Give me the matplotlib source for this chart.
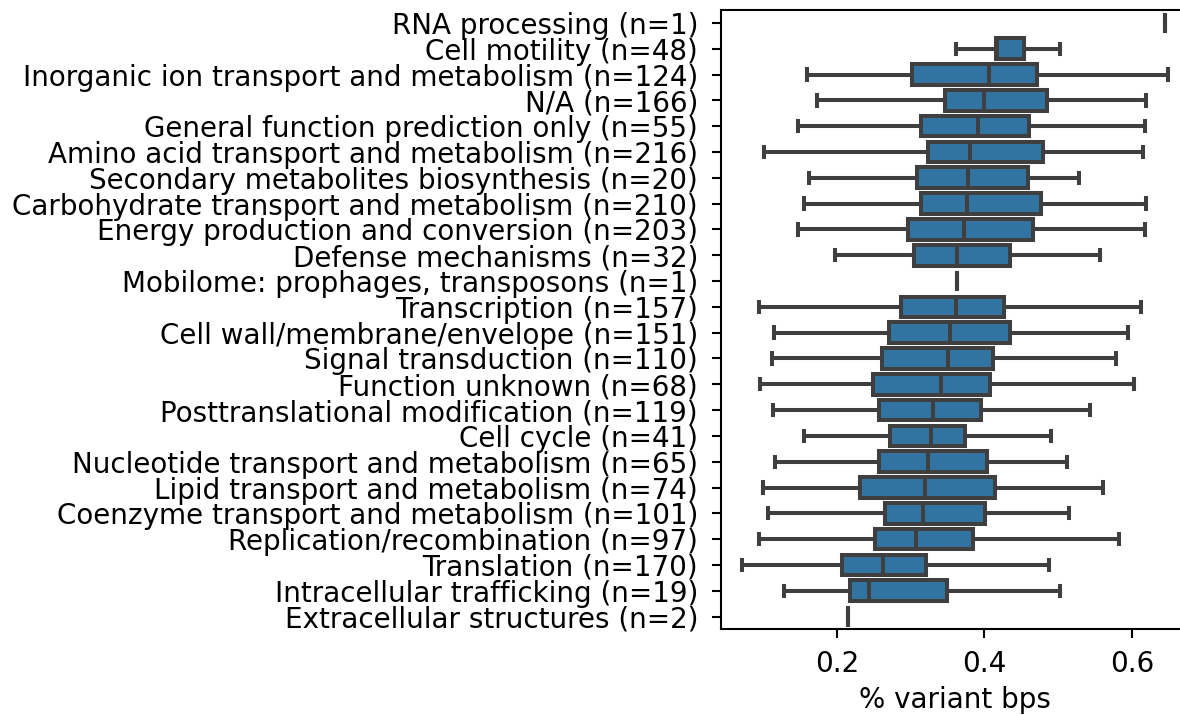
import matplotlib
matplotlib.use("Agg")
import matplotlib.pyplot as plt

# COG categories, top to bottom
categories = [
    "RNA processing (n=1)",
    "Cell motility (n=48)",
    "Inorganic ion transport and metabolism (n=124)",
    "N/A (n=166)",
    "General function prediction only (n=55)",
    "Amino acid transport and metabolism (n=216)",
    "Secondary metabolites biosynthesis (n=20)",
    "Carbohydrate transport and metabolism (n=210)",
    "Energy production and conversion (n=203)",
    "Defense mechanisms (n=32)",
    "Mobilome: prophages, transposons (n=1)",
    "Transcription (n=157)",
    "Cell wall/membrane/envelope (n=151)",
    "Signal transduction (n=110)",
    "Function unknown (n=68)",
    "Posttranslational modification (n=119)",
    "Cell cycle (n=41)",
    "Nucleotide transport and metabolism (n=65)",
    "Lipid transport and metabolism (n=74)",
    "Coenzyme transport and metabolism (n=101)",
    "Replication/recombination (n=97)",
    "Translation (n=170)",
    "Intracellular trafficking (n=19)",
    "Extracellular structures (n=2)",
]

whislo = [0.644, 0.361, 0.160, 0.173, 0.148, 0.102, 0.162, 0.156, 0.148, 0.198, 0.363, 0.095,
          0.115, 0.112, 0.096, 0.114, 0.156, 0.116, 0.100, 0.107, 0.095, 0.072, 0.128, 0.2148]
q1 = [0.644, 0.415, 0.302, 0.346, 0.314, 0.323, 0.308, 0.314, 0.297, 0.305, 0.363, 0.287,
      0.271, 0.261, 0.249, 0.257, 0.272, 0.257, 0.232, 0.266, 0.252, 0.207, 0.218, 0.2148]
median = [0.644, 0.417, 0.406, 0.399, 0.391, 0.380, 0.378, 0.377, 0.373, 0.363, 0.363, 0.361,
          0.354, 0.350, 0.341, 0.331, 0.328, 0.323, 0.320, 0.317, 0.307, 0.262, 0.244, 0.2150]
q3 = [0.644, 0.453, 0.471, 0.485, 0.460, 0.479, 0.459, 0.477, 0.466, 0.434, 0.363, 0.426,
      0.434, 0.411, 0.408, 0.396, 0.374, 0.403, 0.414, 0.401, 0.385, 0.321, 0.349, 0.2152]
whishi = [0.644, 0.502, 0.648, 0.619, 0.618, 0.615, 0.528, 0.619, 0.618, 0.556, 0.363, 0.612,
          0.594, 0.578, 0.602, 0.543, 0.490, 0.512, 0.560, 0.514, 0.582, 0.487, 0.502, 0.2152]

stats = [
    dict(label=c, whislo=lo, q1=a, med=m, q3=b, whishi=hi, fliers=[])
    for c, lo, a, m, b, hi in zip(categories, whislo, q1, median, q3, whishi)
]

plt.rcParams["font.size"] = 20
fig = plt.figure(figsize=(11.8, 7.15), dpi=100)
ax = fig.add_axes([0.611, 0.1196, 0.3966, 0.8664])

edge = "#3f3f3f"
lw = 2.9
ax.bxp(
    stats,
    positions=range(len(categories)),
    vert=False,
    widths=0.8,
    capwidths=0.4,
    patch_artist=True,
    showfliers=False,
    boxprops=dict(facecolor="#3274a1", edgecolor=edge, linewidth=lw),
    medianprops=dict(color=edge, linewidth=lw),
    whiskerprops=dict(color=edge, linewidth=lw),
    capprops=dict(color=edge, linewidth=lw),
)

ax.set_ylim(len(categories) - 0.5, -0.5)
ax.set_yticks(range(len(categories)))
ax.set_yticklabels(categories)
ax.set_xticks([0.2, 0.4, 0.6])
ax.set_xticklabels(["0.2", "0.4", "0.6"])
ax.set_xlim(0.0432, 0.677)
ax.set_xlabel("% variant bps", labelpad=6)

for side in ["left", "bottom", "top", "right"]:
    ax.spines[side].set_linewidth(1.5)
ax.tick_params(length=6.5, width=1.5)
ax.tick_params(axis="y", pad=10)
ax.tick_params(axis="x", pad=8)

fig.savefig("out.png", dpi=100)
